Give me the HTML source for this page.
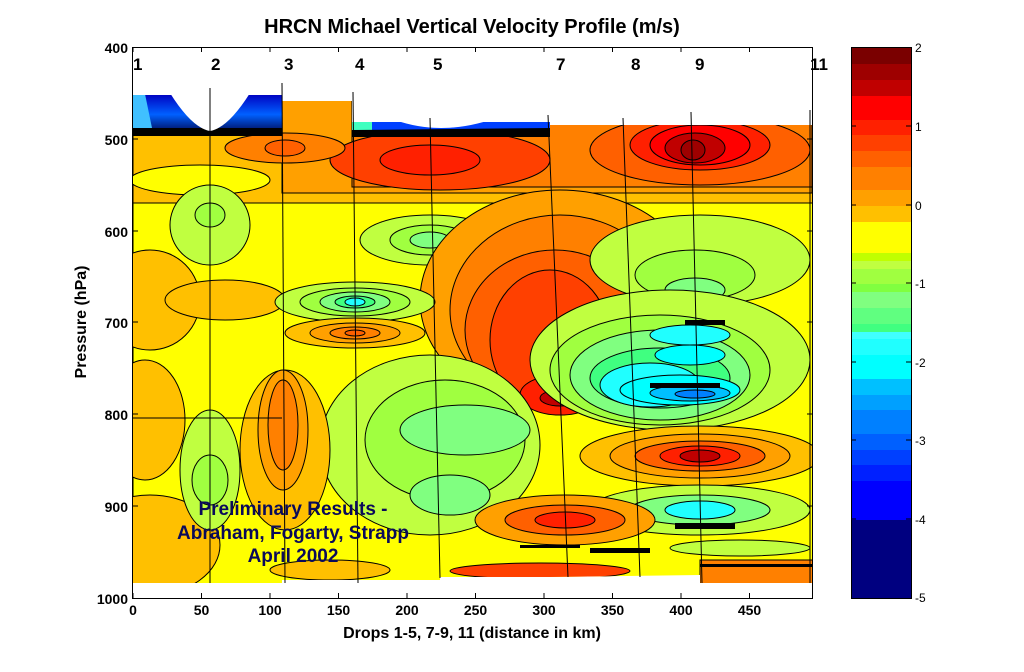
<!DOCTYPE html>
<html><head><meta charset="utf-8"><style>
html,body{margin:0;padding:0;background:#fff;width:1024px;height:672px;overflow:hidden}
svg text{font-family:"Liberation Sans",Arial,sans-serif}
</style></head><body>
<svg width="1024" height="672" viewBox="0 0 1024 672" xmlns="http://www.w3.org/2000/svg">
<defs>
<clipPath id="dc"><path d="M133,95 L282,95 L282,101 L352,101 L352,122 L550,122 L550,125 L812,125 L812,583 L700,583 L700,575 L550,577 L440,577 L440,580 L282,580 L282,583 L133,583 Z"/></clipPath>
<linearGradient id="bl" x1="0" y1="0" x2="0" y2="1"><stop offset="0" stop-color="#0000c0"/><stop offset="0.5" stop-color="#0060ff"/><stop offset="1" stop-color="#000040"/></linearGradient>
</defs>
<g clip-path="url(#dc)" stroke="#000" stroke-width="1">
<rect x="133" y="90" width="680" height="500" fill="#ffff00"/>
<ellipse cx="150" cy="300" rx="50" ry="50" fill="#ffc000"/>
<ellipse cx="145" cy="420" rx="40" ry="60" fill="#ffc000"/>
<ellipse cx="150" cy="545" rx="70" ry="50" fill="#ffc000"/>
<ellipse cx="225" cy="300" rx="60" ry="20" fill="#ffc000"/>
<rect x="133" y="90" width="680" height="113" fill="#ffc000"/>
<ellipse cx="200" cy="180" rx="70" ry="15" fill="#ffff00"/>
<rect x="282" y="90" width="530" height="103" fill="#ffa000"/>
<rect x="352" y="90" width="460" height="97" fill="#ff8000"/>
<ellipse cx="440" cy="160" rx="110" ry="30" fill="#ff4000"/>
<ellipse cx="430" cy="160" rx="50" ry="15" fill="#ff2000"/>
<ellipse cx="285" cy="148" rx="60" ry="15" fill="#ff8000"/>
<ellipse cx="285" cy="148" rx="20" ry="8" fill="#ff6000"/>
<ellipse cx="700" cy="150" rx="110" ry="35" fill="#ff6000"/>
<ellipse cx="700" cy="145" rx="70" ry="25" fill="#ff2000"/>
<ellipse cx="700" cy="145" rx="50" ry="20" fill="#ff0000"/>
<ellipse cx="695" cy="148" rx="30" ry="15" fill="#c00000"/>
<ellipse cx="693" cy="150" rx="12" ry="10" fill="#9e0000"/>
<ellipse cx="210" cy="225" rx="40" ry="40" fill="#c0ff40"/>
<ellipse cx="210" cy="215" rx="15" ry="12" fill="#a0ff40"/>
<ellipse cx="430" cy="240" rx="70" ry="25" fill="#c0ff40"/>
<ellipse cx="430" cy="240" rx="40" ry="15" fill="#a0ff40"/>
<ellipse cx="430" cy="240" rx="20" ry="8" fill="#80ff80"/>
<ellipse cx="560" cy="300" rx="140" ry="110" fill="#ffa000"/>
<ellipse cx="560" cy="310" rx="110" ry="95" fill="#ff8000"/>
<ellipse cx="555" cy="330" rx="90" ry="80" fill="#ff6000"/>
<ellipse cx="550" cy="340" rx="60" ry="70" fill="#ff4000"/>
<ellipse cx="560" cy="395" rx="40" ry="20" fill="#ff2000"/>
<ellipse cx="560" cy="398" rx="20" ry="8" fill="#c00000"/>
<ellipse cx="700" cy="260" rx="110" ry="45" fill="#c0ff40"/>
<ellipse cx="695" cy="275" rx="60" ry="25" fill="#a0ff40"/>
<ellipse cx="695" cy="290" rx="30" ry="12" fill="#80ff80"/>
<ellipse cx="355" cy="302" rx="80" ry="20" fill="#c0ff40"/>
<ellipse cx="355" cy="302" rx="55" ry="14" fill="#a0ff40"/>
<ellipse cx="355" cy="302" rx="35" ry="10" fill="#80ff80"/>
<ellipse cx="355" cy="302" rx="20" ry="6" fill="#40ff80"/>
<ellipse cx="355" cy="302" rx="10" ry="4" fill="#20ffff"/>
<ellipse cx="355" cy="333" rx="70" ry="15" fill="#ffc000"/>
<ellipse cx="355" cy="333" rx="45" ry="10" fill="#ffa000"/>
<ellipse cx="355" cy="333" rx="25" ry="6" fill="#ff8000"/>
<ellipse cx="355" cy="333" rx="10" ry="3" fill="#ff6000"/>
<ellipse cx="430" cy="445" rx="110" ry="90" fill="#c0ff40"/>
<ellipse cx="445" cy="440" rx="80" ry="60" fill="#a0ff40"/>
<ellipse cx="465" cy="430" rx="65" ry="25" fill="#80ff80"/>
<ellipse cx="450" cy="495" rx="40" ry="20" fill="#80ff80"/>
<ellipse cx="210" cy="470" rx="30" ry="60" fill="#c0ff40"/>
<ellipse cx="210" cy="480" rx="18" ry="25" fill="#a0ff40"/>
<ellipse cx="285" cy="450" rx="45" ry="80" fill="#ffc000"/>
<ellipse cx="283" cy="430" rx="25" ry="60" fill="#ffa000"/>
<ellipse cx="283" cy="425" rx="15" ry="45" fill="#ff8000"/>
<ellipse cx="670" cy="360" rx="140" ry="70" fill="#c0ff40"/>
<ellipse cx="660" cy="370" rx="110" ry="55" fill="#a0ff40"/>
<ellipse cx="660" cy="375" rx="90" ry="45" fill="#80ff80"/>
<ellipse cx="660" cy="378" rx="70" ry="30" fill="#40ff80"/>
<ellipse cx="650" cy="385" rx="50" ry="22" fill="#20ffff"/>
<ellipse cx="690" cy="335" rx="40" ry="10" fill="#20ffff"/>
<ellipse cx="690" cy="355" rx="35" ry="10" fill="#00ffff"/>
<ellipse cx="680" cy="390" rx="60" ry="15" fill="#00ffff"/>
<ellipse cx="690" cy="393" rx="40" ry="8" fill="#00c0ff"/>
<ellipse cx="695" cy="394" rx="20" ry="4" fill="#0080ff"/>
<ellipse cx="700" cy="456" rx="120" ry="30" fill="#ffc000"/>
<ellipse cx="700" cy="456" rx="90" ry="22" fill="#ffa000"/>
<ellipse cx="700" cy="456" rx="65" ry="15" fill="#ff6000"/>
<ellipse cx="700" cy="456" rx="40" ry="10" fill="#ff2000"/>
<ellipse cx="700" cy="456" rx="20" ry="6" fill="#c00000"/>
<ellipse cx="700" cy="510" rx="110" ry="25" fill="#c0ff40"/>
<ellipse cx="700" cy="510" rx="70" ry="15" fill="#80ff80"/>
<ellipse cx="700" cy="510" rx="35" ry="9" fill="#20ffff"/>
<ellipse cx="565" cy="520" rx="90" ry="25" fill="#ffa000"/>
<ellipse cx="565" cy="520" rx="60" ry="15" fill="#ff6000"/>
<ellipse cx="565" cy="520" rx="30" ry="8" fill="#ff2000"/>
<ellipse cx="540" cy="571" rx="90" ry="8" fill="#ff4000"/>
<rect x="700" y="560" width="115" height="25" fill="#ff8000"/>
<ellipse cx="740" cy="548" rx="70" ry="8" fill="#c0ff40"/>
<ellipse cx="330" cy="570" rx="60" ry="10" fill="#ffc000"/>
<g stroke="none" fill="#000">
<rect x="685" y="320" width="40" height="5"/><rect x="650" y="383" width="70" height="5"/>
<rect x="675" y="523" width="60" height="6"/><rect x="590" y="548" width="60" height="5"/>
<rect x="700" y="564" width="112" height="3"/><rect x="520" y="545" width="60" height="3"/>
</g>
<path d="M133,94 L282,94 L282,135 L133,135 Z" fill="url(#bl)" stroke="none"/>
<path d="M133,94 L145,94 L152,128 L133,128Z" fill="#40c0ff" stroke="none"/>
<path d="M133,128 L282,128 L282,136 L133,136 Z" fill="#000" stroke="none"/>
<path d="M352,121 L550,121 L550,131 L352,131Z" fill="#0040ff" stroke="none"/>
<path d="M352,121 L372,121 L372,131 L352,131Z" fill="#40ffc0" stroke="none"/>
<path d="M352,130 L550,128 L550,137 L352,137Z" fill="#000" stroke="none"/>
</g>
<path d="M170,93 Q192,128 210,131 Q228,128 250,93 Z" fill="#fff"/>
<path d="M395,120 Q440,136 490,120 Z" fill="#fff"/>
<g stroke="#000" stroke-width="1" fill="none">
<line x1="210" y1="88" x2="210" y2="583"/><line x1="282" y1="83" x2="285" y2="583"/>
<line x1="353" y1="92" x2="358" y2="583"/><line x1="430" y1="118" x2="440" y2="578"/>
<line x1="548" y1="115" x2="568" y2="577"/><line x1="623" y1="118" x2="640" y2="577"/>
<line x1="691" y1="112" x2="702" y2="583"/><line x1="810" y1="110" x2="810" y2="583"/>
<line x1="133" y1="418" x2="282" y2="418"/>
</g>
<rect x="132.5" y="47.5" width="680" height="551" fill="none" stroke="#000"/>
<g stroke="#000">
<path d="M133,598v-5M201.5,598v-5M270,598v-5M338.5,598v-5M407,598v-5M475.5,598v-5M544,598v-5M612.5,598v-5M681,598v-5M749.5,598v-5M133,47v5M201.5,47v5M270,47v5M338.5,47v5M407,47v5M475.5,47v5M544,47v5M612.5,47v5M681,47v5M749.5,47v5"/>
<path d="M133,139h5M133,231h5M133,322h5M133,414h5M133,506h5M812,139h-5M812,231h-5M812,322h-5M812,414h-5M812,506h-5"/>
</g>
<g font-weight="bold" font-size="17" fill="#000">
<text x="133" y="70">1</text><text x="211" y="70">2</text><text x="284" y="70">3</text><text x="355" y="70">4</text><text x="433" y="70">5</text><text x="556" y="70">7</text><text x="631" y="70">8</text><text x="695" y="70">9</text><text x="810" y="70">11</text>
</g>
<g font-weight="bold" font-size="14" text-anchor="end">
<text x="128" y="53">400</text><text x="128" y="145">500</text><text x="128" y="237">600</text><text x="128" y="328">700</text><text x="128" y="420">800</text><text x="128" y="512">900</text><text x="128" y="604">1000</text>
</g>
<g font-weight="bold" font-size="14" text-anchor="middle">
<text x="133" y="615">0</text><text x="201.5" y="615">50</text><text x="270" y="615">100</text><text x="338.5" y="615">150</text><text x="407" y="615">200</text><text x="475.5" y="615">250</text><text x="544" y="615">300</text><text x="612.5" y="615">350</text><text x="681" y="615">400</text><text x="749.5" y="615">450</text>
</g>
<text x="472" y="638" font-weight="bold" font-size="16" text-anchor="middle">Drops 1-5, 7-9, 11 (distance in km)</text>
<text x="472" y="33" font-weight="bold" font-size="20" text-anchor="middle">HRCN Michael Vertical Velocity Profile (m/s)</text>
<text transform="translate(86,322) rotate(-90)" font-weight="bold" font-size="16" text-anchor="middle">Pressure (hPa)</text>
<g font-weight="bold" font-size="19" fill="#0a0a5a" text-anchor="middle">
<text x="293" y="515">Preliminary Results -</text><text x="293" y="539">Abraham, Fogarty, Strapp</text><text x="293" y="562">April 2002</text>
</g>
<g stroke="none">
<rect x="851" y="47" width="60" height="17" fill="#7a0000"/><rect x="851" y="64" width="60" height="16" fill="#9e0000"/><rect x="851" y="80" width="60" height="16" fill="#c00000"/><rect x="851" y="96" width="60" height="24" fill="#ff0000"/><rect x="851" y="120" width="60" height="15" fill="#ff2000"/><rect x="851" y="135" width="60" height="16" fill="#ff4000"/><rect x="851" y="151" width="60" height="16" fill="#ff6000"/><rect x="851" y="167" width="60" height="23" fill="#ff8000"/><rect x="851" y="190" width="60" height="16" fill="#ffa000"/><rect x="851" y="206" width="60" height="16" fill="#ffc000"/><rect x="851" y="222" width="60" height="31" fill="#ffff00"/><rect x="851" y="253" width="60" height="8" fill="#c0ff00"/><rect x="851" y="261" width="60" height="8" fill="#c0ff40"/><rect x="851" y="269" width="60" height="15" fill="#a0ff40"/><rect x="851" y="284" width="60" height="8" fill="#80ff40"/><rect x="851" y="292" width="60" height="16" fill="#80ff80"/><rect x="851" y="308" width="60" height="16" fill="#60ff80"/><rect x="851" y="324" width="60" height="8" fill="#40ff80"/><rect x="851" y="332" width="60" height="7" fill="#40ffff"/><rect x="851" y="339" width="60" height="16" fill="#20ffff"/><rect x="851" y="355" width="60" height="24" fill="#00ffff"/><rect x="851" y="379" width="60" height="16" fill="#00c0ff"/><rect x="851" y="395" width="60" height="15" fill="#00a0ff"/><rect x="851" y="410" width="60" height="24" fill="#0080ff"/><rect x="851" y="434" width="60" height="16" fill="#0060ff"/><rect x="851" y="450" width="60" height="15" fill="#0040ff"/><rect x="851" y="465" width="60" height="16" fill="#0020ff"/><rect x="851" y="481" width="60" height="39" fill="#0000ff"/><rect x="851" y="520" width="60" height="78" fill="#000080"/>
</g>
<rect x="851.5" y="47.5" width="60" height="551" fill="none" stroke="#000"/>
<path d="M851,126h5M851,205h5M851,283h5M851,362h5M851,440h5M851,519h5M911,126h-5M911,205h-5M911,283h-5M911,362h-5M911,440h-5M911,519h-5" stroke="#000"/>
<g font-size="12"><text x="915" y="52">2</text><text x="915" y="131">1</text><text x="915" y="210">0</text><text x="915" y="288">-1</text><text x="915" y="367">-2</text><text x="915" y="445">-3</text><text x="915" y="524">-4</text><text x="915" y="602">-5</text></g>
</svg>
</body></html>
